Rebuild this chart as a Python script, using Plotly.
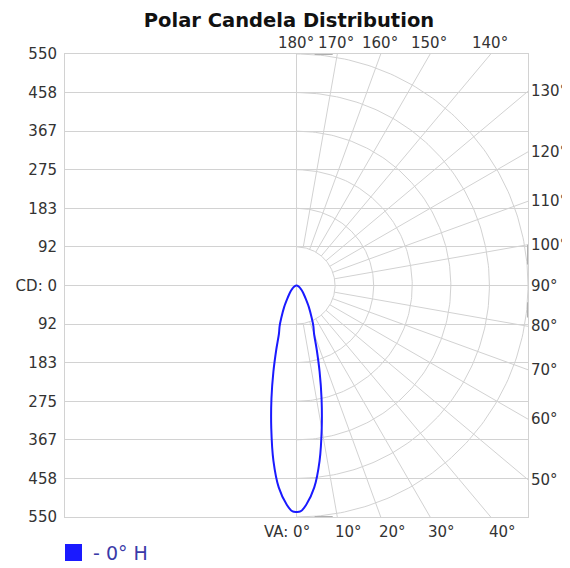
import numpy as np
import plotly.graph_objects as go

# ---------------- data ----------------
title_text = "Polar Candela Distribution"
series_name = "- 0° H"
cd_max = 550

# vertical angle (deg) and candela for the 0° H plane
va_deg = [0, 1, 2.5, 5, 7.5, 10, 12.5, 15, 17.5, 20, 22.5, 25, 30, 35, 40, 45, 50, 60, 70, 80, 90]
candela = [538, 537, 522, 482, 420, 345, 275, 212, 160, 122, 105, 86, 58, 38, 27, 20, 14, 8, 4, 2, 0]

# left axis tick labels (top to bottom)
y_tick_labels = ["550", "458", "367", "275", "183", "92", "CD: 0", "92", "183", "275", "367", "458", "550"]

# angle labels
bottom_angles = [0, 10, 20, 30, 40]
right_angles = [50, 60, 70, 80, 90, 100, 110, 120, 130]
top_angles = [140, 150, 160, 170, 180]
grid_angles = list(range(0, 181, 10))

# ---------------- styling ----------------
FONT = "DejaVu Sans"
GRID = "#d2d2d2"
TXT = "#333333"
BLUE = "#1a1aff"
OFF = 8                      # page body margin of the html page
W, H = 570 - OFF, 568 - OFF
ML, MT = 65 - OFF, 54 - OFF
PW, PH = 463, 463
MR, MB = W - ML - PW, H - MT - PH


def px_x(page_x):
    return (page_x - OFF - ML) / PW


def px_y(page_y):
    return (MT + PH - (page_y - OFF)) / PH


fig = go.Figure()

# polar grid: arcs on the right half
n_rings = 6
for k in range(1, n_rings + 1):
    r = k * cd_max / n_rings
    a = np.radians(np.linspace(0, 180, 181))
    fig.add_trace(go.Scatter(x=r * np.sin(a), y=-r * np.cos(a), mode="lines",
                             line=dict(color=GRID, width=1), hoverinfo="skip", showlegend=False))
# radial spokes
r0 = cd_max / n_rings
for ang in grid_angles:
    a = np.radians(ang)
    rr = np.array([r0, 3 * cd_max])
    fig.add_trace(go.Scatter(x=rr * np.sin(a), y=-rr * np.cos(a), mode="lines",
                             line=dict(color=GRID, width=1), hoverinfo="skip", showlegend=False))

# candela curve (both halves)
th = np.radians(np.array(va_deg, dtype=float))
cdv = np.array(candela, dtype=float)
x_left = -(cdv * np.sin(th))[::-1]
y_left = -(cdv * np.cos(th))[::-1]
x_right = (cdv * np.sin(th))[1:]
y_right = -(cdv * np.cos(th))[1:]
fig.add_trace(go.Scatter(x=np.concatenate([x_left, x_right]), y=np.concatenate([y_left, y_right]),
                         mode="lines", line=dict(color=BLUE, width=2, shape="spline", smoothing=0.8),
                         showlegend=False, name=series_name))

annotations = []
# bottom labels
for ang in bottom_angles:
    xv = cd_max * np.tan(np.radians(ang))
    if ang == 0:
        annotations.append(dict(x=xv, y=0, xref="x", yref="paper", text="VA: 0°", xanchor="right",
                                yanchor="top", xshift=15, yshift=-4, showarrow=False))
    else:
        annotations.append(dict(x=xv, y=0, xref="x", yref="paper", text=f"{ang}°", xanchor="left",
                                yanchor="top", xshift=-4, yshift=-4, showarrow=False))
# right labels
for ang in right_angles:
    a = np.radians(ang)
    yv = -cd_max * np.cos(a) / np.sin(a)
    annotations.append(dict(x=1, y=yv, xref="paper", yref="y", text=f"{ang}°", xanchor="left",
                            yanchor="middle", xshift=1, showarrow=False))
# top labels
for ang in top_angles:
    a = np.radians(ang)
    xv = -cd_max * np.tan(a)
    annotations.append(dict(x=xv, y=1, xref="x", yref="paper", text=f"{ang}°", xanchor="center",
                            yanchor="bottom", xshift=-1, yshift=0, showarrow=False))

# manual legend: blue square + text
shapes = [dict(type="rect", xref="paper", yref="paper", x0=px_x(65), x1=px_x(82),
               y0=px_y(561), y1=px_y(544), fillcolor=BLUE, line=dict(width=0))]
annotations.append(dict(x=px_x(91), y=px_y(553), xref="paper", yref="paper",
                        text=series_name, xanchor="left", yanchor="middle", showarrow=False,
                        font=dict(family=FONT, size=19, color="#3a3aa8")))

# small scroll marks on the frame
marks = [
    dict(x0=43, x1=86, y0=cd_max, y1=cd_max),
    dict(x0=43, x1=86, y0=-cd_max, y1=-cd_max),
    dict(x0=cd_max, x1=cd_max, y0=50, y1=97),
    dict(x0=cd_max, x1=cd_max, y0=-76, y1=-40),
]
shapes += [dict(type="line", xref="x", yref="y", line=dict(color="#b0b0b0", width=2), **m) for m in marks]

tickvals = [cd_max - i * cd_max / 6 for i in range(13)]

fig.update_layout(
    width=W, height=H,
    margin=dict(l=ML, r=MR, t=MT, b=MB, autoexpand=False),
    paper_bgcolor="white", plot_bgcolor="white",
    font=dict(family=FONT, size=15, color=TXT),
    title=dict(text=f"<b>{title_text}</b>", x=0.5, xanchor="center", y=1 - (20 - OFF) / H,
               yanchor="middle", yref="container",
               font=dict(family=FONT, size=19.5, color="#111111")),
    xaxis=dict(range=[-cd_max, cd_max], tickvals=[0], showticklabels=False, showgrid=True,
               gridcolor=GRID, gridwidth=1, zeroline=False, showline=True, mirror=True,
               linecolor=GRID, linewidth=1, ticks="", fixedrange=True, automargin=False),
    yaxis=dict(range=[-cd_max, cd_max], tickvals=tickvals, ticktext=y_tick_labels, showgrid=True,
               gridcolor=GRID, gridwidth=1, zeroline=False, showline=True, mirror=True,
               linecolor=GRID, linewidth=1, ticks="", ticklabelstandoff=4, fixedrange=True,
               automargin=False),
    annotations=annotations,
    shapes=shapes,
    showlegend=False,
)

fig.write_html("out.html")
